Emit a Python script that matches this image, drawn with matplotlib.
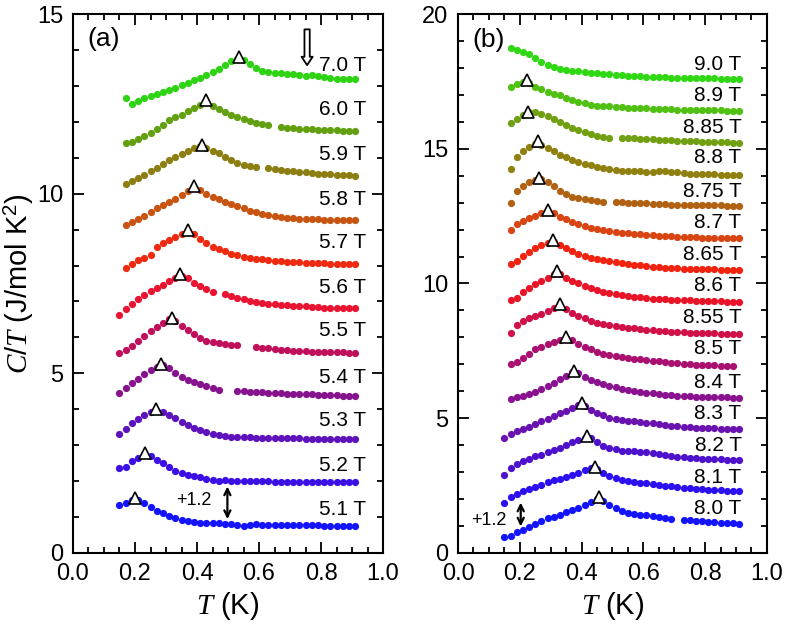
"""Specific heat C/T vs T for a series of fields, two panels, curves offset by +1.2."""
import matplotlib
matplotlib.use("Agg")
import matplotlib.pyplot as plt
import numpy as np
from matplotlib.ticker import MultipleLocator

plt.rcParams["font.family"] = ["Liberation Sans", "DejaVu Sans"]
plt.rcParams["mathtext.fontset"] = "custom"
plt.rcParams["mathtext.it"] = "Liberation Serif:italic"
plt.rcParams["mathtext.rm"] = "Liberation Sans"

nan = float("nan")

# temperature grid (K), shared by every curve
T_GRID = [0.15, 0.17, 0.19, 0.21, 0.23, 0.25, 0.27, 0.29, 0.31, 0.33,
          0.35, 0.37, 0.39, 0.41, 0.43, 0.45, 0.47, 0.49, 0.51, 0.53,
          0.55, 0.57, 0.59, 0.61, 0.63, 0.65, 0.67, 0.69, 0.71, 0.73,
          0.75, 0.77, 0.79, 0.81, 0.83, 0.85, 0.87, 0.89, 0.91]

# ---- panel (a): C/T (already offset by +1.2 per field) ----
A_51 = [1.33, 1.40, 1.48, 1.47, 1.38, 1.28, 1.18, 1.10, 1.02, 0.97, 0.93, 0.90, 0.87, 0.84, 0.83, 0.82, 0.83, 0.81, 0.80, 0.79,
        0.74, 0.79, 0.80, 0.79, 0.79, 0.78, 0.78, 0.78, 0.77, 0.77, 0.77, 0.77, 0.77, 0.76, 0.76, 0.76, 0.76, 0.76, 0.76]
A_52 = [2.36, 2.40, 2.55, 2.65, 2.74, 2.70, 2.60, 2.49, 2.38, 2.28, 2.22, 2.18, 2.14, 2.10, 2.07, 2.04, 2.01, 2.02, 2.01, 2.01,
        2.00, 2.00, 1.99, 1.99, 1.99, 1.98, 1.98, 1.98, 1.98, 1.97, 1.97, 1.97, 1.97, 1.97, 1.96, 1.96, 1.96, 1.96, 1.96]
A_53 = [3.30, 3.45, 3.62, 3.72, 3.83, 3.92, 3.96, 3.92, 3.85, 3.75, 3.65, 3.55, 3.47, 3.41, 3.36, 3.31, 3.28, 3.25, 3.24, 3.23,
        3.22, 3.22, 3.21, 3.21, 3.20, 3.20, 3.20, 3.19, 3.19, 3.19, 3.18, 3.18, 3.18, 3.18, 3.17, 3.17, 3.17, 3.17, 3.17]
A_54 = [4.45, 4.58, 4.72, 4.85, 4.98, 5.08, 5.18, 5.22, 5.14, 5.02, 4.90, 4.80, 4.75, 4.70, 4.65, 4.60, 4.54, nan, nan, 4.52,
        4.50, 4.49, 4.48, 4.47, 4.46, 4.45, 4.44, 4.43, 4.43, 4.42, 4.41, 4.41, 4.40, 4.40, 4.39, 4.39, 4.38, 4.38, 4.38]
A_55 = [5.56, 5.64, 5.76, 5.90, 6.04, 6.18, 6.30, 6.40, 6.50, 6.46, 6.32, 6.20, 6.08, 5.97, 5.91, 5.86, 5.83, 5.81, 5.80, 5.78,
        nan, nan, 5.73, 5.71, 5.69, 5.67, 5.65, 5.64, 5.63, 5.62, 5.61, 5.60, 5.60, 5.59, 5.59, 5.58, 5.58, 5.57, 5.57]
A_56 = [6.62, 6.78, 6.93, 7.08, 7.18, 7.28, 7.37, 7.46, 7.56, 7.66, 7.72, 7.64, 7.50, 7.42, 7.34, 7.25, nan, 7.20, 7.15, 7.10,
        7.06, 7.02, 6.99, 6.96, 6.94, 6.92, 6.91, 6.90, 6.88, 6.87, 6.86, 6.85, 6.84, 6.83, 6.83, 6.82, 6.82, 6.81, 6.81]
A_57 = [nan, 7.93, 8.05, 8.14, 8.20, 8.30, 8.52, 8.62, 8.70, 8.78, 8.88, 8.95, 8.88, 8.74, 8.62, 8.52, 8.45, 8.39, 8.33, 8.29,
        8.25, 8.22, 8.19, 8.17, 8.15, 8.13, 8.12, 8.11, 8.10, 8.09, 8.08, 8.07, 8.06, 8.06, 8.05, 8.05, 8.04, 8.04, 8.04]
A_58 = [nan, 9.12, 9.20, 9.29, 9.38, 9.50, 9.60, 9.68, 9.77, 9.86, 9.96, 10.06, 10.15, 10.10, 9.98, 9.90, 9.84, 9.78, 9.72, 9.66,
        9.60, 9.53, 9.48, 9.44, 9.40, 9.37, 9.34, 9.32, 9.31, 9.30, 9.30, 9.29, 9.29, 9.28, 9.28, 9.27, 9.27, 9.27, 9.27]
A_59 = [nan, 10.28, 10.35, 10.44, 10.53, 10.62, 10.72, 10.83, 10.93, 11.02, 11.10, 11.18, 11.26, 11.32, 11.28, 11.20, 11.12,
        11.02, 10.94, 10.86, 10.80, 10.76, 10.73, nan, 10.70, 10.68, 10.66, 10.64, 10.62, 10.61, 10.59, 10.57, 10.56, 10.55,
        10.54, 10.53, 10.52, 10.51, 10.50]
A_60 = [nan, 11.40, 11.45, 11.52, 11.60, 11.70, 11.80, 11.92, 12.04, 12.12, 12.20, 12.29, 12.38, 12.48, 12.55, 12.45, 12.35,
        12.28, 12.20, 12.14, 12.08, 12.03, 11.98, 11.95, 11.92, nan, 11.86, 11.84, 11.82, 11.81, 11.80, 11.79, 11.78, 11.77,
        11.76, 11.76, 11.75, 11.75, 11.74]
A_70 = [nan, 12.66, 12.50, 12.58, 12.65, 12.72, 12.78, 12.83, 12.88, 12.95, 13.02, 13.08, 13.15, 13.22, 13.30, 13.38, 13.47,
        13.58, 13.68, 13.75, 13.72, 13.60, 13.50, 13.42, 13.38, 13.36, 13.35, 13.34, 13.32, 13.30, 13.28, 13.30, 13.28, 13.24,
        13.22, 13.20, 13.19, 13.18, 13.18]

LABELS_A = ["5.1 T", "5.2 T", "5.3 T", "5.4 T", "5.5 T", "5.6 T", "5.7 T", "5.8 T", "5.9 T", "6.0 T", "7.0 T"]
LABEL_Y_A = [1.22, 2.43, 3.69, 4.88, 6.19, 7.39, 8.64, 9.84, 11.09, 12.34, 13.57]
TC_A_T = [0.200, 0.232, 0.268, 0.283, 0.318, 0.345, 0.372, 0.391, 0.415, 0.428, 0.537]
TC_A_V = [1.53, 2.78, 4.00, 5.27, 6.55, 7.76, 8.98, 10.20, 11.35, 12.60, 13.80]
COLORS_A = ["#1414ff", "#3c10e4", "#5e12bc", "#86128e", "#c0105c", "#e81432", "#ee2a10",
            "#c85412", "#8c7e10", "#62a010", "#2ed414"]

# ---- panel (b) ----
B_80 = [0.60, 0.62, 0.76, 0.85, 0.95, 1.08, 1.20, 1.28, 1.35, 1.42, 1.50, 1.58, 1.68, 1.78, 1.88, 2.00, 1.92, 1.78, 1.65, 1.55,
        1.48, 1.45, 1.42, 1.40, 1.36, 1.32, 1.28, 1.25, nan, 1.24, 1.22, 1.20, 1.18, 1.16, 1.14, 1.12, 1.11, 1.10, 1.09]
B_81 = [1.86, 2.06, 2.20, 2.28, 2.36, 2.45, 2.53, 2.62, 2.69, 2.75, 2.83, 2.90, 2.98, 3.06, 3.15, 3.12, 2.98, 2.85, 2.78, 2.72,
        2.68, 2.65, 2.61, 2.58, 2.55, 2.52, 2.50, 2.47, 2.45, 2.42, 2.40, 2.38, 2.36, 2.34, 2.33, 2.32, 2.31, 2.30, 2.29]
B_82 = [2.90, 3.15, 3.30, 3.40, 3.50, 3.58, 3.65, 3.73, 3.82, 3.90, 4.00, 4.10, 4.18, 4.28, 4.25, 4.10, 3.98, 3.90, 3.84, 3.80,
        3.78, 3.77, 3.76, 3.75, 3.72, 3.68, 3.64, 3.60, 3.57, 3.55, 3.53, 3.52, 3.50, 3.49, 3.48, 3.47, 3.46, 3.46, 3.45]
B_83 = [4.25, 4.42, 4.52, 4.60, 4.68, 4.78, 4.88, 4.97, 5.07, 5.18, 5.28, 5.38, 5.48, 5.45, 5.30, 5.18, 5.10, 5.02, 4.96, 4.92,
        4.90, 4.88, 4.85, 4.83, 4.81, 4.78, 4.75, 4.72, 4.70, 4.68, 4.66, 4.65, 4.64, 4.63, 4.62, 4.61, 4.60, 4.60, 4.59]
B_84 = [nan, 5.72, 5.78, 5.84, 5.90, 5.98, 6.08, 6.20, 6.32, 6.44, 6.56, 6.70, 6.68, 6.52, 6.42, 6.34, 6.26, 6.20, 6.14, 6.09,
        6.05, 6.01, 5.98, 5.95, 5.92, 5.89, 5.87, 5.85, 5.83, 5.82, 5.81, 5.80, 5.79, 5.78, 5.78, 5.77, 5.77, 5.76, 5.76]
B_85 = [nan, 7.00, 7.10, 7.25, 7.40, 7.55, 7.66, 7.75, 7.84, 7.92, 7.98, 7.90, 7.76, 7.64, 7.56, 7.46, 7.40, 7.35, 7.31, 7.28,
        7.24, 7.21, 7.18, 7.16, 7.13, 7.11, 7.08, 7.06, 7.04, 7.02, 7.00, 6.99, 6.98, 6.97, 6.96, 6.95, 6.95, 6.94, nan]
B_855 = [nan, 8.15, 8.45, 8.62, 8.72, 8.80, 8.88, 8.98, 9.08, 9.18, 9.05, 8.92, 8.80, 8.70, 8.62, 8.55, 8.50, 8.46, 8.42, 8.39,
         8.36, 8.34, 8.31, 8.29, 8.27, 8.25, 8.23, 8.21, 8.20, 8.19, 8.18, 8.17, 8.16, 8.16, 8.15, 8.14, 8.14, 8.13, 8.13]
B_86 = [nan, 9.40, 9.45, 9.70, 9.85, 9.98, 10.10, 10.22, 10.36, 10.35, 10.22, 10.10, 10.00, 9.92, 9.84, 9.76, 9.70, 9.65, 9.61,
        9.57, 9.54, 9.51, 9.48, 9.46, 9.44, 9.42, 9.41, 9.40, 9.39, 9.38, 9.37, 9.36, 9.35, 9.35, 9.34, 9.34, 9.33, 9.33, 9.33]
B_865 = [nan, 10.72, 10.85, 11.02, 11.16, 11.30, 11.42, 11.52, 11.55, 11.42, 11.30, 11.20, 11.10, 11.02, 10.95, 10.90, 10.86,
         10.82, 10.79, 10.76, 10.73, 10.70, 10.67, 10.64, 10.62, 10.60, 10.58, 10.57, 10.56, 10.55, 10.54, 10.53, 10.53, 10.52,
         10.52, 10.51, 10.51, 10.50, 10.50]
B_87 = [nan, 12.00, 12.20, 12.32, 12.42, 12.52, 12.62, 12.70, 12.60, 12.48, 12.38, 12.28, 12.20, 12.12, 12.06, 12.01, 11.97,
        11.94, 11.91, 11.89, 11.87, 11.85, 11.83, 11.81, 11.79, 11.77, 11.76, 11.75, 11.74, 11.73, 11.72, 11.71, 11.70, 11.70,
        11.69, 11.69, 11.68, 11.68, 11.68]
B_875 = [nan, 13.00, 13.45, 13.62, 13.75, 13.85, 13.88, 13.75, 13.60, 13.45, 13.32, 13.22, 13.16, 13.12, 13.09, 13.06, 13.04,
         nan, 13.02, 13.01, 13.00, 12.99, 12.98, 12.97, 12.96, 12.95, 12.94, 12.93, 12.93, 12.92, 12.92, 12.91, 12.91, 12.90,
         12.90, 12.90, 12.89, 12.89, 12.89]
B_88 = [nan, 14.25, 14.70, 14.92, 15.05, 15.18, 15.15, 15.02, 14.90, 14.78, 14.68, 14.60, 14.52, 14.45, 14.38, 14.32, 14.27,
        14.23, 14.20, 14.18, 14.17, 14.16, 14.16, 14.15, 14.15, 14.16, 14.16, 14.14, 14.12, 14.10, 14.08, 14.07, 14.06, 14.05,
        14.05, 14.04, 14.04, 14.03, 14.03]
B_885 = [nan, 15.95, 16.10, 16.25, 16.35, 16.35, 16.30, 16.20, 16.10, 16.00, 15.88, 15.78, 15.70, 15.62, 15.55, 15.48, 15.43,
         15.40, nan, 15.40, 15.40, 15.39, 15.37, 15.36, 15.35, 15.33, 15.32, 15.31, 15.30, 15.29, 15.28, 15.27, 15.26, 15.25,
         15.25, 15.24, 15.24, 15.23, 15.23]
B_89 = [nan, 17.30, 17.42, 17.48, 17.45, 17.30, 17.20, 17.12, 17.05, 16.98, 16.90, 16.82, 16.75, 16.69, 16.64, 16.60, 16.58,
        16.57, 16.55, 16.54, 16.53, 16.52, 16.51, 16.50, 16.49, 16.48, 16.47, 16.46, 16.45, 16.45, 16.44, 16.44, 16.43, 16.43,
        16.42, 16.42, 16.41, 16.41, 16.41]
B_90 = [nan, 18.75, 18.68, 18.60, 18.50, 18.38, 18.22, 18.10, 18.02, 17.97, 17.93, 17.90, 17.87, 17.84, 17.82, 17.80, 17.78,
        17.76, 17.74, 17.72, 17.71, 17.70, 17.69, 17.68, 17.67, 17.66, 17.65, 17.64, 17.63, 17.63, 17.62, 17.62, 17.61, 17.61,
        17.61, 17.60, 17.60, 17.60, 17.60]

LABELS_B = ["8.0 T", "8.1 T", "8.2 T", "8.3 T", "8.4 T", "8.5 T", "8.55 T", "8.6 T",
            "8.65 T", "8.7 T", "8.75 T", "8.8 T", "8.85 T", "8.9 T", "9.0 T"]
LABEL_Y_B = [1.63, 2.80, 3.99, 5.16, 6.33, 7.57, 8.72, 9.92, 11.09, 12.26, 13.41, 14.66, 15.79, 16.97, 18.14]
TC_B_T = [0.458, 0.444, 0.419, 0.400, 0.376, 0.348, 0.330, 0.320, 0.307, 0.290, 0.263, 0.260, 0.228, 0.222]
TC_B_V = [2.07, 3.20, 4.34, 5.56, 6.76, 8.02, 9.24, 10.45, 11.60, 12.74, 13.93, 15.27, 16.38, 17.55]
COLORS_B = ["#1414ff", "#2c10f0", "#4e12cc", "#6a12b0", "#8a1290", "#aa1070", "#d01048", "#e81428",
            "#f02210", "#d84412", "#b06212", "#908010", "#70a012", "#50c012", "#30d814"]

CURVES_A = [A_51, A_52, A_53, A_54, A_55, A_56, A_57, A_58, A_59, A_60, A_70]
CURVES_B = [B_80, B_81, B_82, B_83, B_84, B_85, B_855, B_86, B_865, B_87, B_875, B_88, B_885, B_89, B_90]


def style(ax, ymax):
    ax.set_xlim(0, 1.0)
    ax.set_ylim(0, ymax)
    ax.xaxis.set_major_locator(MultipleLocator(0.2))
    ax.xaxis.set_minor_locator(MultipleLocator(0.05))
    ax.yaxis.set_major_locator(MultipleLocator(5))
    ax.yaxis.set_minor_locator(MultipleLocator(1))
    ax.tick_params(which="both", direction="in", top=True, right=True, width=1.3, labelsize=17)
    ax.tick_params(which="major", length=8, pad=7)
    ax.tick_params(which="minor", length=4)
    ax.xaxis.set_major_formatter(plt.FuncFormatter(lambda v, p: f"{v:.1f}"))
    for s in ax.spines.values():
        s.set_linewidth(1.5)
    ax.set_xlabel("$T$ (K)", fontsize=21, labelpad=4)


def draw(ax, curves, colors, labels, label_y, label_x, tc_t, tc_v):
    T = np.array(T_GRID)
    for vals, c in zip(curves, colors):
        ax.plot(T, np.array(vals, dtype=float), "o", ms=5.2, mew=0, color=c, zorder=2)
    for lab, y in zip(labels, label_y):
        ax.text(label_x, y, lab, fontsize=15, ha="right", va="center", zorder=3)
    ax.plot(tc_t, tc_v, "^", ms=8, mfc="white", mec="black", mew=1.2, zorder=4)


def offset_arrow(ax, x, y0, y1):
    ax.annotate("", xy=(x, y0), xytext=(x, y1),
                arrowprops=dict(arrowstyle="<->,head_width=0.22,head_length=0.45",
                                color="black", lw=1.6, shrinkA=0, shrinkB=0))


fig = plt.figure(figsize=(7.89, 6.37), dpi=100)
ax_a = fig.add_axes([0.0925, 0.132, 0.393, 0.846])
ax_b = fig.add_axes([0.5805, 0.132, 0.3915, 0.846])

style(ax_a, 15)
style(ax_b, 20)

draw(ax_a, CURVES_A, COLORS_A, LABELS_A, LABEL_Y_A, 0.945, TC_A_T, TC_A_V)
draw(ax_b, CURVES_B, COLORS_B, LABELS_B, LABEL_Y_B, 0.918, TC_B_T, TC_B_V)

ax_a.set_ylabel("$C/T$ (J/mol K$^2$)", fontsize=21, labelpad=1)
ax_a.text(0.045, 14.3, "(a)", fontsize=19, va="center")
ax_b.text(0.045, 19.03, "(b)", fontsize=19, va="center")

# +1.2 offset markers
ax_a.text(0.389, 1.45, "+1.2", fontsize=13, ha="center", va="center")
offset_arrow(ax_a, 0.498, 0.94, 1.85)
ax_b.text(0.10, 1.22, "+1.2", fontsize=13, ha="center", va="center")
offset_arrow(ax_b, 0.203, 0.98, 1.87)

# hollow arrow above the 7.0 T curve
ax_a.annotate("", xy=(0.755, 13.5), xytext=(0.755, 14.65),
              arrowprops=dict(arrowstyle="simple,head_width=0.8,head_length=0.6,tail_width=0.38",
                              fc="white", ec="black", lw=1.3))

fig.savefig("out.png", dpi=100)
